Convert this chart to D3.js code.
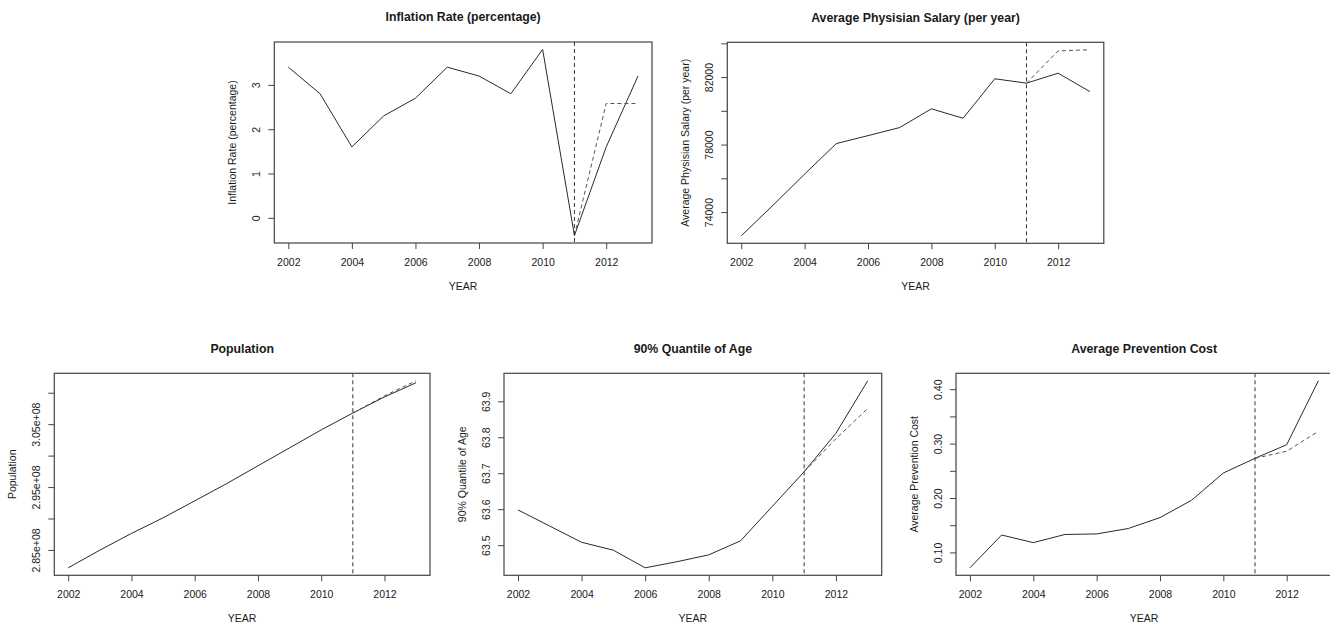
<!DOCTYPE html>
<html>
<head>
<meta charset="utf-8">
<script src="https://cdn.jsdelivr.net/npm/d3@7"></script>
<style>
  body { margin: 0; background: #fff; }
  svg { font-family: "Liberation Sans", Arial, sans-serif; }
</style>
</head>
<body>
<div class="chart-container"></div>
<script>
// 年份與預測年份
const years = [2002, 2003, 2004, 2005, 2006, 2007, 2008, 2009, 2010, 2011, 2012, 2013];
const forecastYears = [2011, 2012, 2013];
const yearTicks = [2002, 2004, 2006, 2008, 2010, 2012];
const cutYear = 2011;

// 各面板的實際值(實線)與預測值(虛線)
const inflation = [3.4, 2.8, 1.6, 2.3, 2.7, 3.4, 3.2, 2.8, 3.8, -0.4, 1.6, 3.2];
const inflationForecast = [-0.4, 2.58, 2.58];
const inflationTicks = [0, 1, 2, 3];
const inflationTickLabels = ['0', '1', '2', '3'];

const salary = [72590, 74400, 76250, 78060, 78530, 79010, 80120, 79560, 81900, 81640, 82230, 81140];
const salaryForecast = [81640, 83550, 83620];
const salaryTicks = [74000, 76000, 78000, 80000, 82000, 84000];
const salaryTickLabels = ['74000', '', '78000', '', '82000', ''];

const population = [282.16e6, 284.97e6, 287.63e6, 290.11e6, 292.81e6, 295.52e6, 298.38e6, 301.23e6, 304.09e6, 306.77e6, 309.33e6, 311.59e6];
const populationForecast = [306.77e6, 309.5e6, 311.9e6];
const populationTicks = [2.85e8, 2.90e8, 2.95e8, 3.00e8, 3.05e8, 3.10e8];
const populationTickLabels = ['2.85e+08', '', '2.95e+08', '', '3.05e+08', ''];

const age90 = [63.598, 63.553, 63.508, 63.486, 63.437, 63.454, 63.473, 63.512, 63.608, 63.704, 63.811, 63.957];
const age90Forecast = [63.704, 63.796, 63.880];
const ageTicks = [63.5, 63.6, 63.7, 63.8, 63.9];
const ageTickLabels = ['63.5', '63.6', '63.7', '63.8', '63.9'];

const prevention = [0.0717, 0.132, 0.118, 0.133, 0.134, 0.144, 0.164, 0.196, 0.246, 0.273, 0.298, 0.4155];
const preventionForecast = [0.273, 0.286, 0.3225];
const preventionTicks = [0.10, 0.15, 0.20, 0.25, 0.30, 0.35, 0.40];
const preventionTickLabels = ['0.10', '', '0.20', '', '0.30', '', '0.40'];

// 面板設定(位置另外放)
const panels = [
    { title: 'Inflation Rate (percentage)', values: inflation, forecast: inflationForecast,
      ticks: inflationTicks, labels: inflationTickLabels, box: { left: 274.3, top: 42, right: 652, bottom: 243 } },
    { title: 'Average Physisian Salary (per year)', values: salary, forecast: salaryForecast,
      ticks: salaryTicks, labels: salaryTickLabels, box: { left: 727.3, top: 42.3, right: 1103.8, bottom: 243.3 } },
    { title: 'Population', values: population, forecast: populationForecast,
      ticks: populationTicks, labels: populationTickLabels, box: { left: 54.3, top: 373.3, right: 430, bottom: 575.3 } },
    { title: '90% Quantile of Age', values: age90, forecast: age90Forecast,
      ticks: ageTicks, labels: ageTickLabels, box: { left: 504, top: 373.3, right: 881.7, bottom: 575.3 } },
    { title: 'Average Prevention Cost', values: prevention, forecast: preventionForecast,
      ticks: preventionTicks, labels: preventionTickLabels, box: { left: 956, top: 373.3, right: 1332.3, bottom: 575.3 } }
];

// R 的預設:資料範圍兩端各加 4%
function padExtent(arr) {
    const [lo, hi] = d3.extent(arr);
    const pad = (hi - lo) * 0.04;
    return [lo - pad, hi + pad];
}

const svg = d3.select('.chart-container').append('svg')
    .attr('width', 1330).attr('height', 624);

const fontSize = 10.5;
const ink = '#1a1a1a';

function drawPanel(p) {
    const b = p.box;
    const xScale = d3.scaleLinear().domain(padExtent(years)).range([b.left, b.right]);
    const yScale = d3.scaleLinear().domain(padExtent(p.values.concat(p.forecast))).range([b.bottom, b.top]);

    const g = svg.append('g').attr('class', 'panel');

    const lineGen = d3.line().x(d => xScale(d[0])).y(d => yScale(d[1]));

    // 實線
    g.append('path')
        .attr('d', lineGen(years.map((y, i) => [y, p.values[i]])))
        .style('fill', 'none').style('stroke', '#2a2a2a').style('stroke-width', 1);

    // 預測虛線
    g.append('path')
        .attr('d', lineGen(forecastYears.map((y, i) => [y, p.forecast[i]])))
        .style('fill', 'none').style('stroke', '#555').style('stroke-width', 1)
        .style('stroke-dasharray', '4,3');

    // 2011 垂直虛線
    g.append('line')
        .attr('x1', xScale(cutYear)).attr('x2', xScale(cutYear))
        .attr('y1', b.top).attr('y2', b.bottom)
        .style('stroke', '#333').style('stroke-width', 1).style('stroke-dasharray', '4,3');

    // 外框
    g.append('rect')
        .attr('x', b.left).attr('y', b.top)
        .attr('width', b.right - b.left).attr('height', b.bottom - b.top)
        .style('fill', 'none').style('stroke', '#444').style('stroke-width', 1.2);

    // X 軸
    const xAxis = d3.axisBottom(xScale).tickValues(yearTicks).tickFormat(d3.format('d'))
        .tickSizeInner(6).tickSizeOuter(0).tickPadding(4);
    const xg = g.append('g').attr('transform', `translate(0,${b.bottom})`).call(xAxis);
    xg.select('.domain').remove();
    xg.selectAll('line').style('stroke', '#444');
    xg.selectAll('text').attr('y', 0).attr('dy', 22.6)
        .style('font-size', fontSize + 'px').style('fill', ink).style('font-family', null);

    // Y 軸(文字旋轉)
    const yAxis = d3.axisLeft(yScale).tickValues(p.ticks).tickSizeInner(6).tickSizeOuter(0)
        .tickFormat((d, i) => p.labels[i]);
    const yg = g.append('g').attr('transform', `translate(${b.left},0)`).call(yAxis);
    yg.select('.domain').remove();
    yg.selectAll('line').style('stroke', '#444');
    yg.selectAll('text')
        .attr('x', null).attr('dy', null)
        .attr('transform', 'translate(-14.4,0) rotate(-90)')
        .style('text-anchor', 'middle')
        .style('font-size', fontSize + 'px').style('fill', ink).style('font-family', null);

    // 標題與軸標籤
    g.append('text')
        .attr('x', (b.left + b.right) / 2).attr('y', b.top - 20.7)
        .text(p.title)
        .style('text-anchor', 'middle').style('font-weight', 'bold')
        .style('font-size', '12.3px').style('fill', ink);

    g.append('text')
        .attr('x', (b.left + b.right) / 2).attr('y', b.bottom + 47)
        .text('YEAR')
        .style('text-anchor', 'middle').style('font-size', fontSize + 'px').style('fill', ink);

    g.append('text')
        .attr('transform', `translate(${b.left - 38.4},${(b.top + b.bottom) / 2}) rotate(-90)`)
        .text(p.title)
        .style('text-anchor', 'middle').style('font-size', fontSize + 'px').style('fill', ink);
}

panels.forEach(drawPanel);
</script>
</body>
</html>
